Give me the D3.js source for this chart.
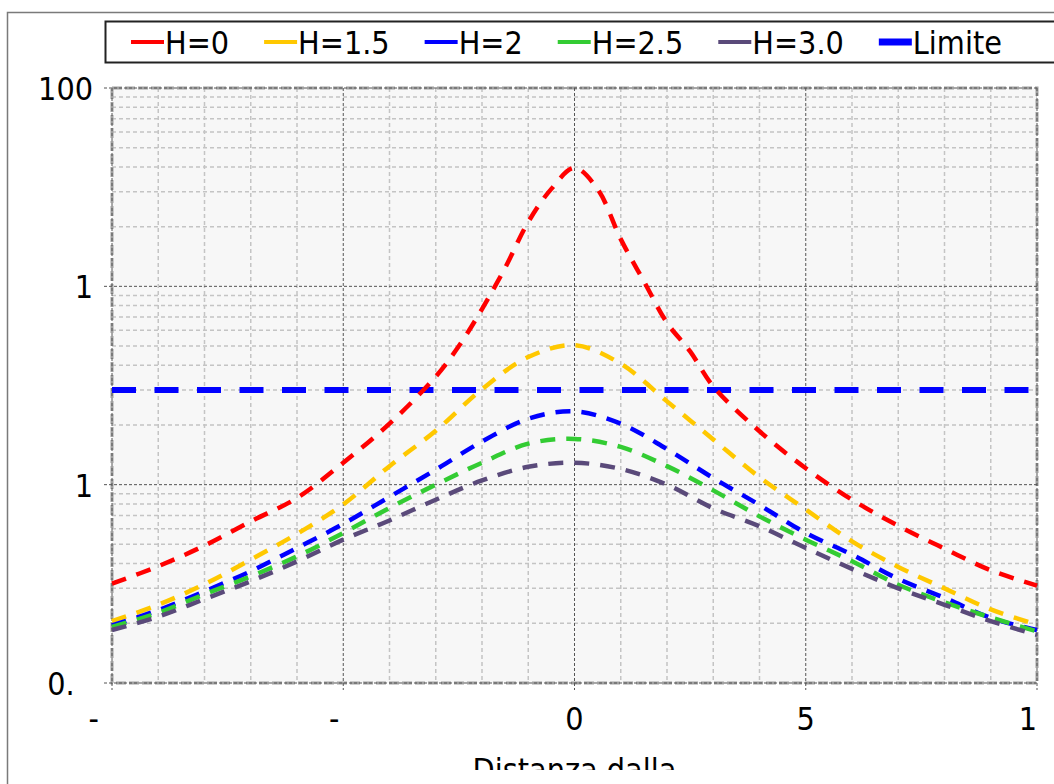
<!DOCTYPE html>
<html>
<head>
<meta charset="utf-8">
<script src="https://cdn.jsdelivr.net/npm/d3@7"></script>
<style>
  body { margin: 0; background: #ffffff; }
  svg { display: block; font-family: "DejaVu Sans Condensed", "DejaVu Sans", sans-serif; font-stretch: condensed; }
</style>
</head>
<body>
<div id="chart"></div>
<script>
// values (log scale, so read by eye per point)
var seriesNames = ["H=0", "H=1.5", "H=2", "H=2.5", "H=3.0"];
var seriesColors = ["#ff0000", "#ffc800", "#0000ff", "#33cc33", "#5a4a7a"];

// red curve has a sharp peak so it got extra half steps
var distanceFine = [-10, -9, -8, -7, -6, -5, -4, -3, -2.5, -2, -1.5, -1, -0.5, 0, 0.5, 1, 1.5, 2, 2.5, 3, 4, 5, 6, 7, 8, 9, 10];
var distance = [-10, -9, -8, -7, -6, -5, -4, -3, -2, -1, 0, 1, 2, 3, 4, 5, 6, 7, 8, 9, 10];

var h0 = [0.317, 0.388, 0.493, 0.653, 0.857, 1.29, 2.03, 3.51, 5.0, 7.68, 12.4, 21.1, 31, 39.5, 30.9, 17.3, 10.6, 6.55, 4.7, 3.13, 1.86, 1.21, 0.84, 0.62, 0.476, 0.37, 0.31];
var h15 = [0.205, 0.248, 0.315, 0.419, 0.565, 0.795, 1.24, 1.87, 3.03, 4.4, 5.05, 4.07, 2.63, 1.69, 1.09, 0.75, 0.518, 0.385, 0.30, 0.235, 0.197];
var h2 = [0.195, 0.233, 0.29, 0.366, 0.48, 0.634, 0.868, 1.19, 1.65, 2.15, 2.34, 2.03, 1.51, 1.08, 0.79, 0.571, 0.444, 0.335, 0.269, 0.213, 0.185];
var h25 = [0.192, 0.226, 0.28, 0.345, 0.435, 0.571, 0.763, 1.0, 1.29, 1.61, 1.70, 1.55, 1.24, 0.936, 0.692, 0.528, 0.411, 0.313, 0.255, 0.214, 0.182];
var h3 = [0.185, 0.216, 0.265, 0.326, 0.41, 0.528, 0.66, 0.84, 1.05, 1.23, 1.29, 1.2, 1.0, 0.76, 0.617, 0.48, 0.376, 0.30, 0.248, 0.205, 0.175];

var limitName = "Limite";
var limitColor = "#0000ff";
var limitValue = 3;
var limitRange = [-10, 10];

var xTickValues = [-10, -5, 0, 5, 10];
// labels are cut short in the original, figure spaces keep where the hidden digits were
var xTickLabels = ["-\u2007\u2007", "-\u2007", "0", "5", "1\u2007"];
var yTickValues = [100, 10, 1, 0.1];
var yTickLabels = ["100", "1", "1", "0.\u2007"];
var xTitle = "Distanza dalla";

var seriesX = [distanceFine, distance, distance, distance, distance];
var seriesY = [h0, h15, h2, h25, h3];

// build the table for d3
var series = seriesNames.map(function(name, i) {
  return {
    name: name,
    color: seriesColors[i],
    points: seriesX[i].map(function(x, j) { return { x: x, y: seriesY[i][j] }; })
  };
});

var W = 1054, H = 784;
var margin = {top: 88, right: 17, bottom: 101, left: 112},
    width = W - margin.left - margin.right,
    height = H - margin.top - margin.bottom;
var fontSize = 32;

var svg = d3.select("#chart")
  .append("svg")
  .attr("width", W)
  .attr("height", H);

// outer chart frame, runs off the right and bottom edge
svg.append("rect")
  .attr("x", 7.5).attr("y", 12.5)
  .attr("width", W + 20).attr("height", H + 20)
  .attr("fill", "#ffffff")
  .attr("stroke", "#7a7a7a")
  .attr("stroke-width", 1.5);

var g = svg.append("g")
  .attr("transform", "translate(" + margin.left + "," + margin.top + ")");

var x = d3.scaleLinear().domain([-10, 10]).range([0, width]);
var y = d3.scaleLog().domain([0.1, 100]).range([height, 0]);

// plot background
g.append("rect")
  .attr("width", width).attr("height", height)
  .attr("fill", "#f7f7f7");

// minor grid
var minorX = d3.range(-10, 11, 1).filter(function(d) { return d % 5 !== 0; });
var minorY = [];
[0.1, 1, 10].forEach(function(dec) {
  for (var k = 2; k <= 9; k++) minorY.push(dec * k);
});

g.selectAll(".minx").data(minorX).enter().append("line")
  .attr("x1", function(d) { return x(d); }).attr("x2", function(d) { return x(d); })
  .attr("y1", 0).attr("y2", height)
  .attr("stroke", "#c4c4c4").attr("stroke-width", 1.5).attr("stroke-dasharray", "4,3");

g.selectAll(".miny").data(minorY).enter().append("line")
  .attr("x1", 0).attr("x2", width)
  .attr("y1", function(d) { return y(d); }).attr("y2", function(d) { return y(d); })
  .attr("stroke", "#c4c4c4").attr("stroke-width", 1.5).attr("stroke-dasharray", "4,3");

// plot border
g.append("rect")
  .attr("width", width).attr("height", height)
  .attr("fill", "none")
  .attr("stroke", "#a0a0a0").attr("stroke-width", 3).attr("stroke-dasharray", "10,3");

// major grid + tick marks (dark dotted)
g.selectAll(".majx").data(xTickValues).enter().append("line")
  .attr("x1", function(d) { return x(d); }).attr("x2", function(d) { return x(d); })
  .attr("y1", 0).attr("y2", height + 7)
  .attr("stroke", "#555").attr("stroke-width", 1).attr("stroke-dasharray", "3,2");

g.selectAll(".majy").data(yTickValues).enter().append("line")
  .attr("x1", -8).attr("x2", width)
  .attr("y1", function(d) { return y(d); }).attr("y2", function(d) { return y(d); })
  .attr("stroke", "#555").attr("stroke-width", 1).attr("stroke-dasharray", "3,2");

// tick labels
g.selectAll(".ylab").data(yTickValues).enter().append("text")
  .attr("x", -19)
  .attr("y", function(d) { return y(d) + 12; })
  .attr("text-anchor", "end")
  .attr("font-size", fontSize)
  .attr("fill", "#000")
  .text(function(d, i) { return yTickLabels[i]; });

g.selectAll(".xlab").data(xTickValues).enter().append("text")
  .attr("x", function(d) { return x(d); })
  .attr("y", height + 47)
  .attr("text-anchor", "middle")
  .attr("font-size", fontSize)
  .attr("fill", "#000")
  .text(function(d, i) { return xTickLabels[i]; });

// axis title, clipped at the bottom like the original
svg.append("clipPath").attr("id", "titleclip")
  .append("rect").attr("x", 0).attr("y", 0).attr("width", W).attr("height", 770);

svg.append("text")
  .attr("clip-path", "url(#titleclip)")
  .attr("x", margin.left + width / 2)
  .attr("y", 781)
  .attr("text-anchor", "middle")
  .attr("font-size", fontSize)
  .attr("fill", "#000")
  .text(xTitle);

// limit line
g.append("line")
  .attr("x1", x(limitRange[0])).attr("x2", x(limitRange[1]))
  .attr("y1", y(limitValue)).attr("y2", y(limitValue))
  .attr("stroke", limitColor).attr("stroke-width", 6)
  .attr("stroke-dasharray", "24,18.5");

// the curves
var line = d3.line()
  .x(function(d) { return x(d.x); })
  .y(function(d) { return y(d.y); })
  .curve(d3.curveCatmullRom.alpha(0.5));

g.selectAll(".curve").data(series).enter().append("path")
  .attr("d", function(d) { return line(d.points); })
  .attr("fill", "none")
  .attr("stroke", function(d) { return d.color; })
  .attr("stroke-width", 4.5)
  .attr("stroke-dasharray", "15,11");

// legend
var legend = svg.append("g");
legend.append("rect")
  .attr("x", 105.5).attr("y", 21.5)
  .attr("width", W).attr("height", 41)
  .attr("fill", "#ffffff")
  .attr("stroke", "#222").attr("stroke-width", 2);

var legendItems = series.map(function(s) { return {name: s.name, color: s.color, w: 4}; });
legendItems.push({name: limitName, color: limitColor, w: 7});

var lx = 131;
legendItems.forEach(function(item) {
  legend.append("line")
    .attr("x1", lx).attr("x2", lx + 33)
    .attr("y1", 42).attr("y2", 42)
    .attr("stroke", item.color).attr("stroke-width", item.w);
  var t = legend.append("text")
    .attr("x", lx + 34)
    .attr("y", 54)
    .attr("font-size", fontSize)
    .attr("fill", "#000")
    .text(item.name);
  lx = lx + 34 + t.node().getComputedTextLength() + 35;
});
</script>
</body>
</html>
